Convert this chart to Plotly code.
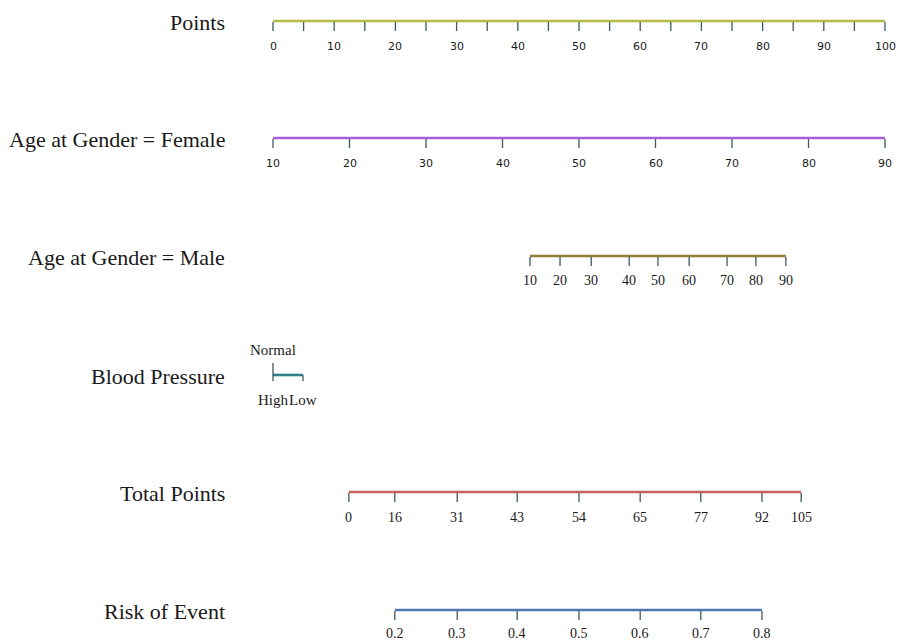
import plotly.graph_objects as go

# ---------------- data ----------------
row_names = ["Points", "Age at Gender = Female", "Age at Gender = Male",
             "Blood Pressure", "Total Points", "Risk of Event"]

points_ticks = list(range(0, 101, 5))
points_labels = list(range(0, 101, 10))

female_ages = [10, 20, 30, 40, 50, 60, 70, 80, 90]
female_points = [0, 12.5, 25, 37.5, 50, 62.5, 75, 87.5, 100]

male_ages = [10, 20, 30, 40, 50, 60, 70, 80, 90]
male_points = [42.0, 46.9, 52.0, 58.2, 62.9, 68.0, 74.2, 78.9, 83.8]

bp_levels = ["Normal", "High", "Low"]
bp_points = [0.0, 0.0, 4.9]

total_labels = [0, 16, 31, 43, 54, 65, 77, 92, 105]
total_positions = [12.4, 19.9, 30.1, 39.9, 50.0, 60.0, 69.9, 79.9, 86.3]

risk_labels = ["0.2", "0.3", "0.4", "0.5", "0.6", "0.7", "0.8"]
risk_positions = [19.9, 30.1, 39.9, 50.0, 60.0, 69.9, 79.9]

# ---------------- layout helpers ----------------
W, H = 899, 644
PX0, PXS = 273.0, 6.12  # pixel of 0 points, pixels per point
XMIN = -PX0 / PXS
XMAX = (W - PX0) / PXS

row_y = [21, 138, 256, 375, 492, 610]
tick_col = "#3d5a66"
text_col = "#1a1a1a"
serif = "Liberation Serif, Times New Roman, serif"
sans = "DejaVu Sans, Verdana, sans-serif"

fig = go.Figure()
annotations = []


def add_line(x0, x1, y, color):
    fig.add_trace(go.Scatter(x=[x0, x1], y=[y, y], mode="lines",
                             line=dict(color=color, width=2.6),
                             hoverinfo="skip", showlegend=False))


def add_ticks(xs, y0, y1):
    tx, ty = [], []
    for x in xs:
        tx += [x, x, None]
        ty += [y0, y1, None]
    fig.add_trace(go.Scatter(x=tx, y=ty, mode="lines",
                             line=dict(color=tick_col, width=1.3),
                             hoverinfo="skip", showlegend=False))


def add_labels(xs, labels, y, font, size):
    for x, lab in zip(xs, labels):
        annotations.append(dict(x=x, y=y, xref="x", yref="y", text=str(lab),
                                showarrow=False, xanchor="center", yanchor="middle",
                                font=dict(family=font, size=size, color=text_col)))


# Points
y = row_y[0]
add_line(points_ticks[0], points_ticks[-1], y, "#b3bb44")
add_ticks(points_ticks, y + 1, y + 10)
add_labels(points_labels, points_labels, y + 25, sans, 11)

# Female
y = row_y[1]
add_line(female_points[0], female_points[-1], y, "#a45ed8")
add_ticks(female_points, y + 1, y + 10)
add_labels(female_points, female_ages, y + 25, sans, 11)

# Male
y = row_y[2]
add_line(male_points[0], male_points[-1], y, "#8e7c3a")
add_ticks(male_points, y + 1, y + 10)
add_labels(male_points, male_ages, y + 24, serif, 14)

# Blood pressure
y = row_y[3]
add_line(min(bp_points), max(bp_points), y, "#2e8088")
add_ticks([bp_points[0]], y - 12, y)
add_ticks(bp_points[1:], y, y + 6)
bp_offsets = [-25, 25, 25]
for lev, px, off in zip(bp_levels, bp_points, bp_offsets):
    annotations.append(dict(x=px, y=y + off, xref="x", yref="y", text=lev,
                            showarrow=False, xanchor="center", yanchor="middle",
                            font=dict(family=serif, size=15, color=text_col)))

# Total points
y = row_y[4]
add_line(total_positions[0], total_positions[-1], y, "#c3625e")
add_ticks(total_positions, y + 1, y + 10)
add_labels(total_positions, total_labels, y + 25, serif, 14)

# Risk
y = row_y[5]
add_line(risk_positions[0], risk_positions[-1], y, "#4e77ae")
add_ticks(risk_positions, y + 1, y + 10)
add_labels(risk_positions, risk_labels, y + 23, serif, 14)

# Row names
for name, y in zip(row_names, row_y):
    annotations.append(dict(x=(227 - PX0) / PXS, y=y + 1, xref="x", yref="y", text=name,
                            showarrow=False, xanchor="right", yanchor="middle",
                            font=dict(family=serif, size=22, color=text_col)))

fig.update_layout(
    width=W, height=H,
    margin=dict(l=0, r=0, t=0, b=0),
    paper_bgcolor="white", plot_bgcolor="white",
    xaxis=dict(range=[XMIN, XMAX], visible=False, fixedrange=True),
    yaxis=dict(range=[H, 0], visible=False, fixedrange=True),
    annotations=annotations,
    showlegend=False,
)

fig.write_html("out.html")
